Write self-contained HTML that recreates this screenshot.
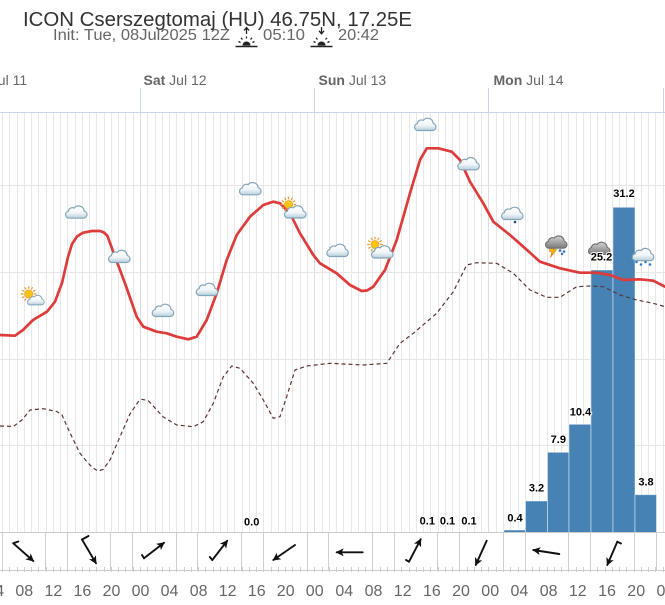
<!DOCTYPE html>
<html><head><meta charset="utf-8"><style>
html,body{margin:0;padding:0;background:#fff;width:665px;height:605px;overflow:hidden}
svg{display:block}
</style></head><body>
<svg width="665" height="605" viewBox="0 0 665 605" font-family="'Liberation Sans', Arial, sans-serif">
<defs>
<linearGradient id="cg" x1="0" y1="0" x2="0" y2="1"><stop offset="0" stop-color="#ffffff"/><stop offset="0.55" stop-color="#f1f6f9"/><stop offset="1" stop-color="#b7cedd"/></linearGradient>
<linearGradient id="dg" x1="0" y1="0" x2="0" y2="1"><stop offset="0" stop-color="#d2d2d2"/><stop offset="1" stop-color="#7a7a7a"/></linearGradient>
<path id="cp" d="M-7.5 6.5H7.5A3.6 3.6 0 0 0 8.2 -0.6A5.6 5.6 0 0 0 -1.8 -3.6A4 4 0 0 0 -7.6 -0.4A3.5 3.5 0 0 0 -7.5 6.5Z"/>
<g id="cloud"><use href="#cp" fill="url(#cg)" stroke="#84a6bb" stroke-width="1.2"/></g>
<g id="dcloud"><use href="#cp" fill="url(#dg)" stroke="#6e6e6e" stroke-width="1.1"/></g>
<g id="sun"><path d="M5.2 0H7.8M4.5 2.6L6.75 3.9M2.6 4.5L3.9 6.75M0 5.2V7.8M-2.6 4.5L-3.9 6.75M-4.5 2.6L-6.75 3.9M-5.2 0H-7.8M-4.5 -2.6L-6.75 -3.9M-2.6 -4.5L-3.9 -6.75M0 -5.2V-7.8M2.6 -4.5L3.9 -6.75M4.5 -2.6L6.75 -3.9" stroke="#f0962a" stroke-width="1.2"/><circle r="4" fill="#f9c615" stroke="#f0a020" stroke-width="0.8"/></g>
<g id="sc"><use href="#sun" transform="translate(-3,-2)"/><use href="#cloud" transform="translate(4,3.8) scale(0.78)"/></g>
<marker id="ah" markerWidth="9" markerHeight="9" refX="7" refY="4.5" orient="auto" markerUnits="userSpaceOnUse"><path d="M0,0.5 L8,4.5 L0,8.5 L2,4.5 Z" fill="#111"/></marker>
</defs>

<!-- title -->
<text x="23" y="26" font-size="20" fill="#333" textLength="389" lengthAdjust="spacingAndGlyphs">ICON Cserszegtomaj (HU) 46.75N, 17.25E</text>
<text x="53" y="40" font-size="15.5" fill="#666" textLength="177" lengthAdjust="spacingAndGlyphs">Init: Tue, 08Jul2025 12Z</text>
<text x="263" y="40" font-size="15.5" fill="#666" textLength="42" lengthAdjust="spacingAndGlyphs">05:10</text>
<text x="338" y="40" font-size="15.5" fill="#666" textLength="41" lengthAdjust="spacingAndGlyphs">20:42</text>
<!-- sunrise icon -->
<g stroke="#222" fill="none" stroke-width="1.3">
<path d="M246.5 34V28.5M244 30.5L246.5 27.5L249 30.5"/>
<path d="M240.5 42.5L238.5 41.5M242.5 39.5L241 37.8M246.5 38.5V36.5M250.5 39.5L252 37.8M252.5 42.5L254.5 41.5"/>
<path d="M235.5 46.5H257.5" stroke-width="1.6"/>
</g>
<path d="M242.5 45.5A4 4 0 0 1 250.5 45.5Z" fill="#222"/>
<!-- sunset icon -->
<g stroke="#222" fill="none" stroke-width="1.3">
<path d="M321.5 27V33M319 30.8L321.5 33.8L324 30.8"/>
<path d="M315.5 42.5L313.5 41.5M317.5 39.5L316 37.8M325.5 39.5L327 37.8M327.5 42.5L329.5 41.5"/>
<path d="M310.5 46.5H332.5" stroke-width="1.6"/>
</g>
<path d="M317.5 45.5A4 4 0 0 1 325.5 45.5Z" fill="#222"/>

<!-- header day labels -->
<g font-size="14" fill="#666">
<text x="-31" y="85"><tspan font-weight="bold">Fri</tspan> Jul 11</text>
<text x="143.5" y="85"><tspan font-weight="bold">Sat</tspan> Jul 12</text>
<text x="318.5" y="85"><tspan font-weight="bold">Sun</tspan> Jul 13</text>
<text x="493.5" y="85"><tspan font-weight="bold">Mon</tspan> Jul 14</text>
</g>
<path d="M140.5 88V113M314.5 88V113M488.5 88V113M663.5 88V113" stroke="#ccd6eb" stroke-width="1"/>

<!-- hourly vertical grid -->
<path stroke="#e8e8e8" stroke-width="1" d="M2.5 113V532M9.5 113V532M17.5 113V532M24.5 113V532M31.5 113V532M38.5 113V532M46.5 113V532M53.5 113V532M60.5 113V532M67.5 113V532M75.5 113V532M82.5 113V532M89.5 113V532M96.5 113V532M104.5 113V532M111.5 113V532M118.5 113V532M125.5 113V532M133.5 113V532M147.5 113V532M155.5 113V532M162.5 113V532M169.5 113V532M176.5 113V532M184.5 113V532M191.5 113V532M198.5 113V532M205.5 113V532M213.5 113V532M220.5 113V532M227.5 113V532M234.5 113V532M242.5 113V532M249.5 113V532M256.5 113V532M263.5 113V532M271.5 113V532M278.5 113V532M285.5 113V532M292.5 113V532M300.5 113V532M307.5 113V532M322.5 113V532M329.5 113V532M336.5 113V532M343.5 113V532M351.5 113V532M358.5 113V532M365.5 113V532M372.5 113V532M380.5 113V532M387.5 113V532M394.5 113V532M401.5 113V532M409.5 113V532M416.5 113V532M423.5 113V532M430.5 113V532M438.5 113V532M445.5 113V532M452.5 113V532M459.5 113V532M467.5 113V532M474.5 113V532M481.5 113V532M496.5 113V532M503.5 113V532M510.5 113V532M518.5 113V532M525.5 113V532M532.5 113V532M539.5 113V532M547.5 113V532M554.5 113V532M561.5 113V532M568.5 113V532M576.5 113V532M583.5 113V532M590.5 113V532M597.5 113V532M605.5 113V532M612.5 113V532M619.5 113V532M626.5 113V532M634.5 113V532M641.5 113V532M648.5 113V532M655.5 113V532M663.5 113V532"/>
<path stroke="#d9dee6" stroke-width="1" d="M140.5 113V532M314.5 113V532M488.5 113V532"/>
<!-- horizontal grid -->
<path stroke="#e6e6e6" stroke-width="1" d="M0 185.5H665M0 272.5H665M0 359.5H665M0 445.5H665"/>
<path stroke="#ccd6eb" stroke-width="1" d="M0 112.5H665"/>

<!-- precipitation bars -->
<g fill="#4682b4" stroke="#ffffff" stroke-opacity="0.45" stroke-width="1">
<rect x="504" y="530" width="21.5" height="2.5"/>
<rect x="525.5" y="501" width="22" height="31.5"/>
<rect x="547.5" y="452.3" width="21.5" height="80.2"/>
<rect x="569" y="424.3" width="22" height="108.2"/>
<rect x="591" y="270" width="22" height="262.5"/>
<rect x="613" y="207.3" width="22" height="325.2"/>
<rect x="635" y="494.7" width="21.5" height="37.8"/>
</g>

<!-- dew point dashed -->
<path fill="none" stroke="#5e3434" stroke-width="1.2" stroke-dasharray="4 3" stroke-linejoin="round" d="M0 426L13.3 426.5L22 420L30 410L43.3 408.7L56.7 411.5L62 415L70 433L80 453.3L88 463L93.3 468.3L98.3 471L103.3 469.3L110 460L120 436.7L130 414L138.3 401.7L141.7 399.3L148.3 400.7L163.3 417L176.7 425L193.3 426.7L203.3 421.7L213.3 403.3L223.3 376.7L231.7 366L240 368.3L253.3 383.3L263.3 400L273.3 418.3L280 416.7L286.7 396.7L295 370L306.7 366L330 363.3L363.3 365L386.7 363.3L400 343.3L413.3 333.3L436.7 313.3L453.3 291.7L466.7 265L476.7 262.7L496.7 263.3L513.3 273.3L530 290L546.7 297.3L560 297.3L576.7 286.7L590 286L603.3 286.7L620 295L636.7 300L653.3 303.3L665 306.7"/>

<!-- temperature -->
<path fill="none" stroke="#de3b3b" stroke-width="2.7" stroke-linejoin="round" stroke-linecap="round" d="M0 335L15 335.7L23 330L33 320L47 311.7L55 301.7L62 283L68 257L72 244L77 236.5L83 232.7L92 231L100 231L104 232.5L107.5 236L115 256.7L125 283.3L136.7 316.7L143.3 326.7L156.7 331.7L166.7 333.3L176.7 336.7L188.3 339.3L196.7 336.7L206.7 320L216.7 293.3L226.7 260L236.7 235L250 216.7L263.3 205L273.3 201.7L280 203.3L290 213.3L300 233.3L313.3 255L320 263.3L330 269.3L336.7 273.3L350 285L361.7 291L367 290.5L373.3 286.7L385 270L396.7 240L410 193.3L420 160L426.7 148.3L438.3 148.3L451.7 151.7L460 160L470 181.7L483.3 203.3L493.3 221.7L510 235L523.3 246.7L540 261.7L560 268.3L580 272.7L596.7 272.7L610 275L623.3 280L640 279.3L653.3 280.7L665 286.7"/>

<!-- weather icons -->
<use href="#sc" transform="translate(31.7,296)"/>
<use href="#cloud" transform="translate(76,211.7)"/>
<use href="#cloud" transform="translate(119,256)"/>
<use href="#cloud" transform="translate(162.7,310)"/>
<use href="#cloud" transform="translate(206.7,289)"/>
<use href="#cloud" transform="translate(250,188.3)"/>
<use href="#sun" transform="translate(288.5,204.5)"/>
<use href="#cloud" transform="translate(295,211.5)"/>
<use href="#cloud" transform="translate(337.3,250)"/>
<use href="#sun" transform="translate(375,244.5)"/>
<use href="#cloud" transform="translate(382,251.5)"/>
<use href="#cloud" transform="translate(425,124)"/>
<use href="#cloud" transform="translate(468.3,163.3)"/>
<use href="#cloud" transform="translate(512,213)"/>
<circle cx="515" cy="222" r="1.3" fill="#1f4f8a"/>
<!-- thunder -->
<path d="M550.5 244L556 244L553.5 249.5L556.5 249.5L550.5 257.5L552 251.5L549.5 251.5Z" fill="#f7b500" stroke="#e07000" stroke-width="0.6"/>
<use href="#dcloud" transform="translate(556,241.7)"/>
<circle cx="560" cy="250.5" r="1.3" fill="#2f6db5"/>
<circle cx="564" cy="251.5" r="1.3" fill="#2f6db5"/>
<circle cx="562" cy="254" r="1.2" fill="#2f6db5"/>
<!-- dark cloud -->
<path d="M595 254L598 254L596.5 258L598.5 258L594.5 262L595.5 258.5L593.5 258.5Z" fill="#f7a000"/>
<use href="#dcloud" transform="translate(599,248)"/>
<!-- rain -->
<use href="#cloud" transform="translate(642.8,254.2)"/>
<g fill="#3a7cc4"><circle cx="636.5" cy="262" r="1.3"/><circle cx="641" cy="264.5" r="1.3"/><circle cx="645.5" cy="262" r="1.3"/><circle cx="650" cy="264.5" r="1.3"/></g>

<!-- bar labels -->
<g font-size="11" font-weight="bold" fill="#000" text-anchor="middle" stroke="#fff" stroke-width="2" paint-order="stroke" stroke-linejoin="round">
<text x="251.7" y="525.5">0.0</text>
<text x="427.3" y="524.7">0.1</text>
<text x="447.5" y="524.7">0.1</text>
<text x="469" y="524.7">0.1</text>
<text x="515" y="521.7">0.4</text>
<text x="536.5" y="491.7">3.2</text>
<text x="558.3" y="443">7.9</text>
<text x="580.5" y="415.7">10.4</text>
<text x="601.5" y="260.7">25.2</text>
<text x="624" y="197">31.2</text>
<text x="646" y="485.7">3.8</text>
</g>

<!-- wind panel -->
<rect x="0" y="533" width="665" height="38" fill="#fff"/>
<path stroke="#cccccc" stroke-width="1" d="M0 532.5H665M0 570.5H665"/>
<path stroke="#cfcfcf" stroke-width="1" d="M2.5 533V571M45.5 533V571M67.5 533V571M110.5 533V571M132.5 533V571M176.5 533V571M197.5 533V571M241.5 533V571M263.5 533V571M307.5 533V571M328.5 533V571M372.5 533V571M394.5 533V571M437.5 533V571M459.5 533V571M503.5 533V571M525.5 533V571M568.5 533V571M590.5 533V571M634.5 533V571M656.5 533V571"/>
<path stroke="#cccccc" stroke-width="1" d="M2.5 567V572M9.5 567V572M17.5 567V572M24.5 567V572M31.5 567V572M38.5 567V572M46.5 567V572M53.5 567V572M60.5 567V572M67.5 567V572M75.5 567V572M82.5 567V572M89.5 567V572M96.5 567V572M104.5 567V572M111.5 567V572M118.5 567V572M125.5 567V572M133.5 567V572M140.5 567V572M147.5 567V572M155.5 567V572M162.5 567V572M169.5 567V572M176.5 567V572M184.5 567V572M191.5 567V572M198.5 567V572M205.5 567V572M213.5 567V572M220.5 567V572M227.5 567V572M234.5 567V572M242.5 567V572M249.5 567V572M256.5 567V572M263.5 567V572M271.5 567V572M278.5 567V572M285.5 567V572M292.5 567V572M300.5 567V572M307.5 567V572M314.5 567V572M322.5 567V572M329.5 567V572M336.5 567V572M343.5 567V572M351.5 567V572M358.5 567V572M365.5 567V572M372.5 567V572M380.5 567V572M387.5 567V572M394.5 567V572M401.5 567V572M409.5 567V572M416.5 567V572M423.5 567V572M430.5 567V572M438.5 567V572M445.5 567V572M452.5 567V572M459.5 567V572M467.5 567V572M474.5 567V572M481.5 567V572M488.5 567V572M496.5 567V572M503.5 567V572M510.5 567V572M518.5 567V572M525.5 567V572M532.5 567V572M539.5 567V572M547.5 567V572M554.5 567V572M561.5 567V572M568.5 567V572M576.5 567V572M583.5 567V572M590.5 567V572M597.5 567V572M605.5 567V572M612.5 567V572M619.5 567V572M626.5 567V572M634.5 567V572M641.5 567V572M648.5 567V572M655.5 567V572M663.5 567V572"/>

<!-- wind arrows -->
<g stroke="#111" stroke-width="1.9" fill="none" stroke-linecap="round">
<line x1="13.3" y1="543.3" x2="33.3" y2="561" marker-end="url(#ah)"/>
<path d="M13.3 543.3L18.3 541.5"/>
<line x1="82" y1="539.5" x2="96" y2="563.3" marker-end="url(#ah)"/>
<path d="M82 539.5L88.5 536"/>
<line x1="144" y1="558.3" x2="164" y2="542.7" marker-end="url(#ah)"/>
<path d="M144 558.3L142 555"/>
<line x1="212.3" y1="560" x2="227.3" y2="540.7" marker-end="url(#ah)"/>
<path d="M212.3 560L209.8 557"/>
<line x1="295" y1="545" x2="273.3" y2="560" marker-end="url(#ah)"/>
<line x1="362.7" y1="552.3" x2="336.7" y2="552.3" marker-end="url(#ah)"/>
<line x1="409" y1="561.7" x2="420.7" y2="539.3" marker-end="url(#ah)"/>
<path d="M409 561.7L406 560"/>
<line x1="486.7" y1="540.7" x2="475.7" y2="565" marker-end="url(#ah)"/>
<line x1="559.3" y1="554" x2="533.3" y2="550" marker-end="url(#ah)"/>
<line x1="617.3" y1="541.7" x2="607.3" y2="565" marker-end="url(#ah)"/>
<path d="M617.3 541.7L621 543.5"/>
</g>

<!-- bottom axis labels -->
<g font-size="16" fill="#666" text-anchor="middle">
<text x="-4.7" y="596">04</text>
<text x="24.3" y="596">08</text>
<text x="53.4" y="596">12</text>
<text x="82.4" y="596">16</text>
<text x="111.5" y="596">20</text>
<text x="140.5" y="596">00</text>
<text x="169.5" y="596">04</text>
<text x="198.6" y="596">08</text>
<text x="227.6" y="596">12</text>
<text x="256.7" y="596">16</text>
<text x="285.7" y="596">20</text>
<text x="314.7" y="596">00</text>
<text x="344.3" y="596">04</text>
<text x="373.5" y="596">08</text>
<text x="402.7" y="596">12</text>
<text x="431.9" y="596">16</text>
<text x="461" y="596">20</text>
<text x="490.2" y="596">00</text>
<text x="519.4" y="596">04</text>
<text x="548.6" y="596">08</text>
<text x="577.8" y="596">12</text>
<text x="607" y="596">16</text>
<text x="636.2" y="596">20</text>
<text x="665.4" y="596">00</text>
</g>
</svg>
</body></html>
